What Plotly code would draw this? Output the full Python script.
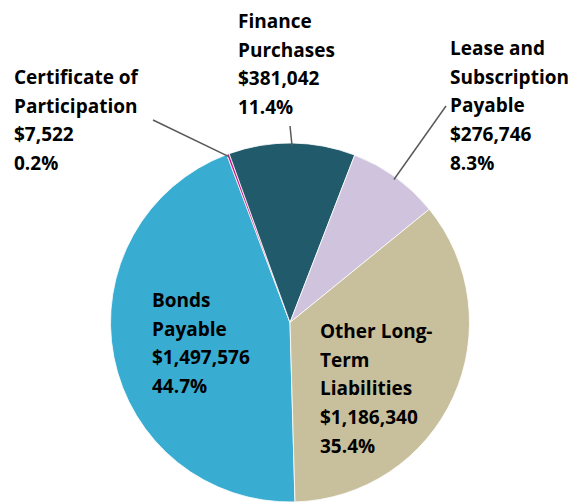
import math
import plotly.graph_objects as go

# ---- data ----
categories = ["Bonds Payable", "Certificate of Participation", "Finance Purchases",
              "Lease and Subscription Payable", "Other Long-Term Liabilities"]
values = [1497576, 7522, 381042, 276746, 1186340]
name_lines = [["Bonds", "Payable"],
              ["Certificate of", "Participation"],
              ["Finance", "Purchases"],
              ["Lease and", "Subscription", "Payable"],
              ["Other Long-", "Term", "Liabilities"]]
colors = ["#39ACD1", "#D0168A", "#215B6B", "#CFC3DD", "#C8BF9C"]

# ---- layout constants (screen pixels; page offsets figure by 8px) ----
W, H = 576, 502
OFF = 8
CX, CY, R = 290 - OFF, 322.5 - OFF, 179.5
ROT = 178.4
LINE_H = 28.7
label_pos = [(150, 300), (12, 77), (236, 21), (448, 48), (318, 331)]
leader_start = {1: (153, 120), 2: (290, 126), 3: (446, 106)}

total = sum(values)

fig = go.Figure(go.Pie(
    labels=categories, values=values, sort=False, direction="clockwise",
    rotation=ROT, textinfo="none", hoverinfo="label+value+percent",
    marker=dict(colors=colors, line=dict(color="white", width=0.8)),
    domain=dict(x=[(CX - R) / W, (CX + R) / W],
                y=[1 - (CY + R) / H, 1 - (CY - R) / H]),
    showlegend=False,
))

def px(x):
    return x / W

def py(y):
    return 1 - y / H

annotations = []
shapes = []
cum = 0
for i, (v, lines) in enumerate(zip(values, name_lines)):
    pct = v / total * 100
    all_lines = lines + [f"${v:,}", f"{pct:.1f}%"]
    lx, ly = label_pos[i]
    lx -= OFF
    ly -= OFF
    for k, t in enumerate(all_lines):
        annotations.append(dict(
            x=px(lx), y=py(ly + k * LINE_H), xref="paper", yref="paper",
            text=t, showarrow=False, xanchor="left", yanchor="middle",
            font=dict(family="Open Sans", size=19, color="black", weight="bold"),
        ))
    mid = ROT + (cum + v / 2) / total * 360
    cum += v
    if i in leader_start:
        sx, sy = leader_start[i]
        sx -= OFF
        sy -= OFF
        ex = CX + 0.985 * R * math.sin(math.radians(mid))
        ey = CY - 0.985 * R * math.cos(math.radians(mid))
        shapes.append(dict(type="line", xref="paper", yref="paper",
                           x0=px(sx), y0=py(sy), x1=px(ex), y1=py(ey),
                           line=dict(color="#595959", width=1.5)))

fig.update_layout(
    width=W, height=H, margin=dict(l=0, r=0, t=0, b=0),
    paper_bgcolor="white", plot_bgcolor="white",
    annotations=annotations, shapes=shapes,
)
fig.write_html("out.html")
